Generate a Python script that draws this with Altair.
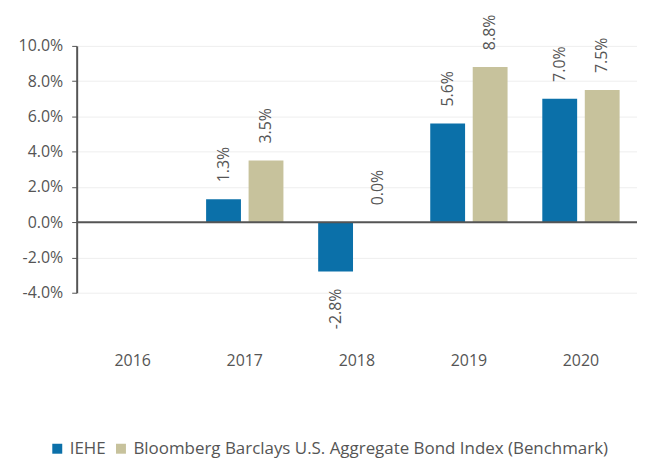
import altair as alt
import pandas as pd

years = ["2016", "2017", "2018", "2019", "2020"]
series = ["IEHE", "Bloomberg Barclays U.S. Aggregate Bond Index (Benchmark)"]
iehe = [None, 0.013, -0.028, 0.056, 0.070]
bench = [None, 0.035, 0.000, 0.088, 0.075]
colors = ["#0b70a9", "#c7c29c"]
yticks = [-0.04, -0.02, 0.0, 0.02, 0.04, 0.06, 0.08, 0.10]

rows = []
for y, a, b in zip(years, iehe, bench):
    if a is not None:
        rows.append({"year": y, "series": series[0], "value": a})
    if b is not None:
        rows.append({"year": y, "series": series[1], "value": b})
df = pd.DataFrame(rows)

FONT = "Open Sans"
GRAY = "#555555"
FMT = "replace(format(datum.value, '.1%'), '\u2212', '-')"

x = alt.X("year:N", scale=alt.Scale(domain=years, paddingInner=0.31, paddingOuter=0.155),
          axis=alt.Axis(title=None, domain=False, ticks=False, labelAngle=0, labelPadding=60,
                        labelFontSize=16, labelColor=GRAY, labelFont=FONT, grid=False))
xo = alt.XOffset("series:N", scale=alt.Scale(domain=series, paddingInner=0.18))
yaxis = alt.Axis(title=None, labelExpr=FMT, values=yticks, tickCount=8,
                 labelOverlap=False, labelFlush=False,
                 domainColor=GRAY, domainWidth=2, tickColor=GRAY, tickSize=5, tickWidth=1,
                 labelFontSize=16, labelColor=GRAY, labelFont=FONT, labelPadding=9,
                 gridColor="#eeeeee", gridWidth=1)
y = alt.Y("value:Q", scale=alt.Scale(domain=[-0.04, 0.10], nice=False, zero=False), axis=yaxis)
color = alt.Color("series:N", scale=alt.Scale(domain=series, range=colors),
                  legend=alt.Legend(title=None, orient="none", legendX=-28, legendY=396,
                                    direction="horizontal", symbolType="square", symbolSize=100,
                                    symbolStrokeWidth=0, labelFontSize=17, labelColor=GRAY,
                                    labelFont=FONT, columnPadding=6, labelOffset=4, labelLimit=0))

base = alt.Chart(df).transform_calculate(label=FMT)
bars = base.mark_bar().encode(x=x, xOffset=xo, y=y, y2=alt.datum(0), color=color)

pos = base.transform_filter("datum.value >= 0").mark_text(
    angle=270, align="left", baseline="middle", dx=17, fontSize=16, font=FONT, color=GRAY
).encode(x=x, xOffset=xo, y=y, text="label:N")

neg = base.transform_filter("datum.value < 0").mark_text(
    angle=270, align="right", baseline="middle", dx=-17, fontSize=16, font=FONT, color=GRAY
).encode(x=x, xOffset=xo, y=y, text="label:N")

zero = alt.Chart(pd.DataFrame({"v": [0]})).mark_rule(color=GRAY, strokeWidth=2).encode(y=alt.datum(0))

chart = alt.layer(bars, zero, pos, neg).properties(
    width=563, height=248,
    autosize=alt.AutoSizeParams(type="none"),
    padding={"left": 69, "top": 37, "right": 0, "bottom": 170},
).configure_view(stroke=None)

chart.save("out.html", embed_options={"renderer": "svg", "actions": False})
